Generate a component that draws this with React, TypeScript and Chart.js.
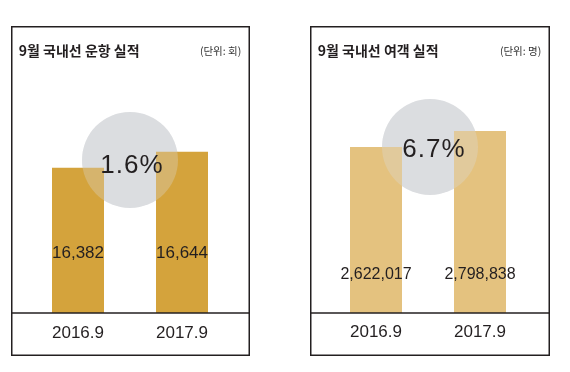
import React, { useEffect, useRef } from "react";
import { Chart, registerables } from "chart.js";

Chart.register(...registerables);

// ---- data ----
const categories = ["2016.9", "2017.9"];
const flightValues = [16382, 16644];
const passengerValues = [2622017, 2798838];
const flightTitle = "9월 국내선 운항 실적";
const flightUnit = "(단위: 회)";
const passengerTitle = "9월 국내선 여객 실적";
const passengerUnit = "(단위: 명)";

const INK = "#231f20";
const NUM_FONT = '"Liberation Sans", Arial, sans-serif';
const KR_FONT = '"Noto Sans CJK KR", "Noto Sans", sans-serif';

type PanelCfg = {
  values: number[];
  title: string;
  unit: string;
  color: string;
  min: number;
  max: number;
  padLeft: number;
  padRight: number;
  box: { x: number; y: number; w: number; h: number };
  circleY: number;
  circleDx: number;
  pctY: number;
  pctDx: number;
  valueY: number;
  valueFont: number;
  catY: number;
};

const fmt = (v: number) => v.toLocaleString("en-US");

const decorPlugin = {
  id: "panelDecor",
  beforeDatasetsDraw(chart: any, _a: any, opts: any) {
    const cfg: PanelCfg = opts.cfg;
    const ctx = chart.ctx;
    const xs = chart.scales.x;
    const cx = (xs.getPixelForValue(0) + xs.getPixelForValue(1)) / 2 + cfg.circleDx;
    ctx.save();
    ctx.fillStyle = "#dcdde0";
    ctx.beginPath();
    ctx.arc(cx, cfg.circleY, 48, 0, Math.PI * 2);
    ctx.fill();
    ctx.restore();
  },
  afterDatasetsDraw(chart: any, _a: any, opts: any) {
    const cfg: PanelCfg = opts.cfg;
    const ctx = chart.ctx;
    const xs = chart.scales.x;
    const ys = chart.scales.y;
    const x0 = xs.getPixelForValue(0);
    const x1 = xs.getPixelForValue(1);
    const cx = (x0 + x1) / 2 + cfg.circleDx;
    ctx.save();
    // translucent circle overlay over bars
    ctx.globalAlpha = 0.3;
    ctx.fillStyle = "#dcdde0";
    ctx.beginPath();
    ctx.arc(cx, cfg.circleY, 48, 0, Math.PI * 2);
    ctx.fill();
    ctx.globalAlpha = 1;

    // percentage growth
    const v = cfg.values;
    const pct = ((v[1] - v[0]) / v[0]) * 100;
    ctx.fillStyle = INK;
    ctx.textAlign = "center";
    ctx.textBaseline = "alphabetic";
    ctx.font = `26px ${NUM_FONT}`;
    (ctx as any).letterSpacing = "1px";
    ctx.fillText(`${pct.toFixed(1)}%`, (x0 + x1) / 2 + cfg.pctDx, cfg.pctY);
    (ctx as any).letterSpacing = "0px";

    // value labels
    ctx.font = `${cfg.valueFont}px ${NUM_FONT}`;
    v.forEach((val, i) => {
      ctx.fillText(fmt(val), xs.getPixelForValue(i), cfg.valueY);
    });

    // category labels
    ctx.font = `17px ${NUM_FONT}`;
    categories.forEach((c, i) => {
      ctx.fillText(c, xs.getPixelForValue(i), cfg.catY);
    });

    // axis line (at y scale minimum)
    const b = cfg.box;
    const axisY = ys.getPixelForValue(cfg.min);
    ctx.strokeStyle = INK;
    ctx.lineWidth = 1.5;
    ctx.beginPath();
    ctx.moveTo(b.x, axisY);
    ctx.lineTo(b.x + b.w, axisY);
    ctx.stroke();

    // border
    ctx.strokeRect(b.x, b.y, b.w, b.h);

    // title and unit
    ctx.textBaseline = "middle";
    ctx.textAlign = "left";
    ctx.font = `bold 14px ${KR_FONT}`;
    ctx.fillText(cfg.title, b.x + 7, b.y + 24);
    ctx.textAlign = "right";
    ctx.font = `10.5px ${KR_FONT}`;
    ctx.fillStyle = "#333";
    ctx.fillText(cfg.unit, b.x + b.w - 8, b.y + 24);
    ctx.restore();
  },
};

function Panel({ cfg, left }: { cfg: PanelCfg; left: number }) {
  const ref = useRef<HTMLCanvasElement | null>(null);
  useEffect(() => {
    if (!ref.current) return;
    const chart = new Chart(ref.current, {
      type: "bar",
      data: {
        labels: categories,
        datasets: [
          {
            data: cfg.values,
            backgroundColor: cfg.color,
            borderWidth: 0,
            barPercentage: 0.5,
            categoryPercentage: 1,
          },
        ],
      },
      options: {
        animation: false,
        responsive: false,
        maintainAspectRatio: false,
        layout: {
          padding: { left: cfg.padLeft, right: cfg.padRight, top: 69, bottom: 59 },
        },
        scales: {
          x: { display: false, offset: true },
          y: { display: false, min: cfg.min, max: cfg.max },
        },
        plugins: {
          legend: { display: false },
          tooltip: { enabled: false },
          panelDecor: { cfg },
        } as any,
      },
      plugins: [decorPlugin],
    });
    return () => chart.destroy();
  }, []);
  return (
    <canvas
      ref={ref}
      width={285}
      height={372}
      style={{ position: "absolute", left, top: 0, width: 285, height: 372 }}
    />
  );
}

const flightCfg: PanelCfg = {
  values: flightValues,
  title: flightTitle,
  unit: flightUnit,
  color: "#d4a33c",
  min: 14000,
  max: 18000,
  padLeft: 26,
  padRight: 51,
  box: { x: 11.75, y: 26.75, w: 237.5, h: 328.5 },
  circleY: 160,
  circleDx: 0,
  pctY: 173,
  pctDx: 2,
  valueY: 258,
  valueFont: 17,
  catY: 338,
};

const passengerCfg: PanelCfg = {
  values: passengerValues,
  title: passengerTitle,
  unit: passengerUnit,
  color: "#e4c27f",
  min: 800000,
  max: 3480000,
  padLeft: 39,
  padRight: 38,
  box: { x: 25.75, y: 26.75, w: 238.5, h: 328.5 },
  circleY: 147,
  circleDx: 2,
  pctY: 157,
  pctDx: 6,
  valueY: 279,
  valueFont: 16,
  catY: 337,
};

export default function App() {
  return (
    <div
      style={{
        position: "absolute",
        left: 0,
        top: 0,
        width: 570,
        height: 372,
        background: "#fff",
      }}
    >
      <Panel cfg={flightCfg} left={0} />
      <Panel cfg={passengerCfg} left={285} />
    </div>
  );
}
